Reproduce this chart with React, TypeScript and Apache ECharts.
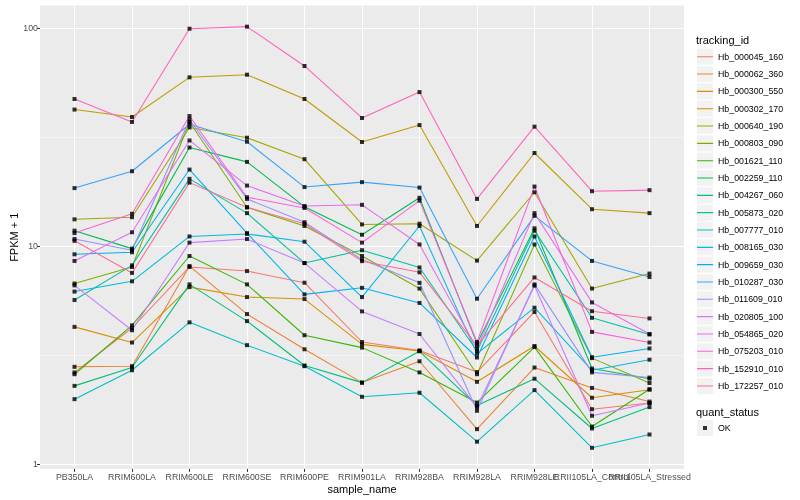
import React, { useEffect, useRef } from 'react';
import * as echarts from 'echarts';

const samples = ['PB350LA', 'RRIM600LA', 'RRIM600LE', 'RRIM600SE', 'RRIM600PE', 'RRIM901LA', 'RRIM928BA', 'RRIM928LA', 'RRIM928LE', 'RRII105LA_Control', 'RRII105LA_Stressed'];

const trackingIds = ['Hb_000045_160', 'Hb_000062_360', 'Hb_000300_550', 'Hb_000302_170', 'Hb_000640_190', 'Hb_000803_090', 'Hb_001621_110', 'Hb_002259_110', 'Hb_004267_060', 'Hb_005873_020', 'Hb_007777_010', 'Hb_008165_030', 'Hb_009659_030', 'Hb_010287_030', 'Hb_011609_010', 'Hb_020805_100', 'Hb_054865_020', 'Hb_075203_010', 'Hb_152910_010', 'Hb_172257_010'];

const colors = ['#F8766D', '#EA8331', '#D89000', '#C09B00', '#A3A500', '#7CAE00', '#39B600', '#00BB4E', '#00BF7D', '#00C1A3', '#00BFC4', '#00BAE0', '#00B0F6', '#35A2FF', '#9590FF', '#C77CFF', '#E76BF3', '#FA62DB', '#FF62BC', '#FF6C91'];

// FPKM + 1 per sample
const hb000045_160 = [2.64, 4.22, 8.04, 7.70, 6.81, 3.64, 3.33, 2.65, 5.0, 1.79, 1.91];
const hb000062_360 = [2.80, 2.82, 8.12, 4.89, 3.37, 2.37, 2.97, 1.45, 2.78, 2.24, 1.94];
const hb000300_550 = [4.27, 3.62, 6.50, 5.85, 5.73, 3.55, 3.31, 2.39, 3.49, 2.02, 2.20];
const hb000302_170 = [42.4, 39.2, 59.6, 61.3, 47.4, 30.1, 36.0, 12.4, 26.8, 14.8, 14.2];
const hb000640_190 = [13.3, 13.6, 35.1, 31.5, 25.1, 12.6, 12.7, 8.6, 17.7, 6.4, 7.5];
const hb000803_090 = [6.75, 8.04, 37.2, 15.1, 12.4, 9.03, 6.4, 2.59, 10.2, 3.07, 2.36];
const hb001621_110 = [2.59, 4.34, 9.03, 6.69, 3.91, 3.43, 2.64, 1.92, 3.45, 1.49, 2.21];
const hb002259_110 = [11.8, 9.76, 28.4, 24.4, 15.2, 11.3, 16.7, 3.58, 12.1, 2.75, 2.47];
const hb004267_060 = [2.29, 2.78, 6.69, 4.54, 2.84, 2.37, 3.30, 1.86, 2.47, 1.46, 1.83];
const hb005873_020 = [5.67, 8.18, 20.4, 14.2, 8.38, 9.6, 8.0, 3.31, 11.8, 4.70, 3.94];
const hb007777_010 = [1.99, 2.70, 4.48, 3.52, 2.82, 2.04, 2.13, 1.27, 2.19, 1.19, 1.37];
const hb008165_030 = [6.20, 6.91, 11.1, 11.4, 10.5, 5.85, 12.4, 3.22, 5.23, 2.70, 3.02];
const hb009659_030 = [9.19, 9.39, 22.5, 11.5, 6.02, 6.45, 5.5, 3.09, 11.1, 3.1, 3.40];
const hb010287_030 = [18.5, 22.1, 36.3, 30.2, 18.7, 19.7, 18.6, 5.75, 13.8, 8.57, 7.23];
const hb011609_010 = [10.8, 9.59, 38.1, 16.5, 12.9, 8.7, 6.8, 1.76, 6.69, 2.64, 2.50];
const hb020805_100 = [6.62, 4.12, 10.4, 10.8, 8.38, 5.03, 3.96, 1.83, 6.6, 1.67, 1.91];
const hb054865_020 = [8.57, 11.6, 30.6, 19.0, 15.3, 15.5, 10.2, 3.39, 14.2, 5.53, 3.96];
const hb075203_010 = [11.5, 14.1, 39.6, 16.8, 15.0, 10.4, 16.2, 3.64, 18.8, 4.05, 3.62];
const hb152910_010 = [47.4, 37.2, 99.6, 101.8, 67.2, 38.8, 51.0, 16.5, 35.4, 17.9, 18.1];
const hb172257_010 = [10.6, 7.55, 19.6, 15.1, 12.7, 8.55, 7.6, 3.5, 7.2, 5.04, 4.67];

const seriesValues = [hb000045_160, hb000062_360, hb000300_550, hb000302_170, hb000640_190, hb000803_090, hb001621_110, hb002259_110, hb004267_060, hb005873_020, hb007777_010, hb008165_030, hb009659_030, hb010287_030, hb011609_010, hb020805_100, hb054865_020, hb075203_010, hb152910_010, hb172257_010];

const yTicks = [1, 10, 100];
const yMinorTicks = [3.1623, 31.623];

export default function App() {
  const ref = useRef<HTMLDivElement>(null);
  useEffect(() => {
    const chart = echarts.init(ref.current as HTMLDivElement, null, { renderer: 'svg' });
    const all = seriesValues.flat();
    const lo = Math.log10(Math.min(...all));
    const hi = Math.log10(Math.max(...all));
    const pad = (hi - lo) * 0.05;
    const yMin = Math.pow(10, lo - pad);
    const yMax = Math.pow(10, hi + pad);
    const xMin = -0.6;
    const xMax = samples.length - 1 + 0.6;
    const font = 'Liberation Sans, Arial, Helvetica, sans-serif';
    const keyIcon = 'path://M0,0h0.01v0.01H0z M0,7.45h16v1.1H0z M15.99,15.99h0.01v0.01h-0.01z';
    const okIcon = 'path://M0,0h0.01v0.01H0z M6,6h4v4H6z M15.99,15.99h0.01v0.01h-0.01z';
    const legendTop = 48.7;
    const step = 17.33;
    const okTop = 420;
    const graphics: any[] = trackingIds.map((_, i) => ({
      type: 'rect', silent: true,
      shape: { x: 697, y: legendTop + i * step, width: 16, height: 16 },
      style: { fill: '#F2F2F2' },
    }));
    graphics.push({ type: 'rect', silent: true, shape: { x: 697, y: okTop, width: 16, height: 16 }, style: { fill: '#F2F2F2' } });

    const points: number[][] = [];
    seriesValues.forEach((vals) => vals.forEach((v, j) => points.push([j, v])));

    const allIdx = samples.map((_, i) => i);
    const evenIdx = allIdx.filter((i) => i !== samples.length - 2);
    const oddIdx = [samples.length - 2];
    const labelStyle = { fontSize: 8.8, color: '#4D4D4D', margin: 4, fontFamily: font, hideOverlap: false, showMinLabel: true, showMaxLabel: true };

    const lineSeries: any[] = trackingIds.map((id, i) => ({
      type: 'line', name: id, silent: true,
      data: seriesValues[i].map((v, j) => [j, v]),
      symbol: 'none', showSymbol: false,
      lineStyle: { color: colors[i], width: 1.07 },
      itemStyle: { color: colors[i] },
      z: 2,
      markLine: i === 0 ? {
        silent: true, symbol: ['none', 'none'], label: { show: false }, z: 1,
        lineStyle: { color: '#FFFFFF', width: 0.53, type: 'solid' },
        emphasis: { disabled: true },
        data: yMinorTicks.map((v) => ({ yAxis: v })),
      } : undefined,
    }));

    const option: any = {
      animation: false,
      textStyle: { fontFamily: font },
      title: [
        { text: 'tracking_id', left: 696, top: 34, padding: 0, textStyle: { fontSize: 11, fontWeight: 'normal', color: '#000000', fontFamily: font } },
        { text: 'quant_status', left: 696, top: 406, padding: 0, textStyle: { fontSize: 11, fontWeight: 'normal', color: '#000000', fontFamily: font } },
      ],
      grid: { left: 40, right: 116, top: 5.6, bottom: 31.1, show: true, backgroundColor: '#EBEBEB', borderWidth: 0, containLabel: false, outerBoundsMode: 'none' },
      xAxis: [
        {
          type: 'value', min: xMin, max: xMax, position: 'bottom',
          axisLine: { show: false, onZero: false },
          axisTick: { show: true, customValues: allIdx, length: 3, lineStyle: { color: '#333333', width: 1 } },
          axisLabel: { ...labelStyle, customValues: evenIdx, formatter: (v: number) => samples[Math.round(v)] ?? '' },
          splitLine: { show: true, lineStyle: { color: '#FFFFFF', width: 1.07 } },
          name: 'sample_name', nameLocation: 'middle', nameGap: 15, nameMoveOverlap: false,
          nameTextStyle: { fontSize: 11, color: '#000000', fontFamily: font },
        },
        {
          type: 'value', min: xMin, max: xMax, position: 'bottom',
          axisLine: { show: false, onZero: false },
          axisTick: { show: false },
          axisLabel: { ...labelStyle, customValues: oddIdx, formatter: (v: number) => samples[Math.round(v)] ?? '' },
          splitLine: { show: false },
        },
      ],
      yAxis: {
        type: 'log', logBase: 10, min: yMin, max: yMax,
        axisLine: { show: false, onZero: false },
        axisTick: { show: true, customValues: yTicks, length: 3, lineStyle: { color: '#333333', width: 1 } },
        axisLabel: {
          customValues: yTicks, formatter: (v: number) => String(Math.round(v)),
          fontSize: 8.8, color: '#4D4D4D', margin: 2, fontFamily: font,
          showMinLabel: true, showMaxLabel: true,
        },
        splitLine: { show: true, lineStyle: { color: '#FFFFFF', width: 1.07 } },
        name: 'FPKM + 1', nameLocation: 'middle', nameGap: 21, nameMoveOverlap: false,
        nameTextStyle: { fontSize: 11, color: '#000000', fontFamily: font },
      },
      legend: [
        {
          orient: 'vertical', left: 697, top: legendTop, itemWidth: 16, itemHeight: 16, itemGap: step - 16, padding: 0,
          icon: keyIcon, selectedMode: false,
          data: trackingIds.map((id, i) => ({ name: id, itemStyle: { color: colors[i] } })),
          textStyle: { fontSize: 8.8, color: '#000000', fontFamily: font },
        },
        {
          orient: 'vertical', left: 697, top: okTop, itemWidth: 16, itemHeight: 16, padding: 0,
          icon: okIcon, selectedMode: false,
          data: [{ name: 'OK', itemStyle: { color: '#000000' } }],
          textStyle: { fontSize: 8.8, color: '#000000', fontFamily: font },
        },
      ],
      graphic: graphics,
      series: [
        ...lineSeries,
        { type: 'scatter', name: 'OK', silent: true, data: points, symbol: 'rect', symbolSize: 4, itemStyle: { color: '#000000' }, z: 3 },
      ],
    };
    chart.setOption(option);
    return () => chart.dispose();
  }, []);
  return <div ref={ref} style={{ position: 'fixed', left: 0, top: 0, width: 800, height: 500 }} />;
}
